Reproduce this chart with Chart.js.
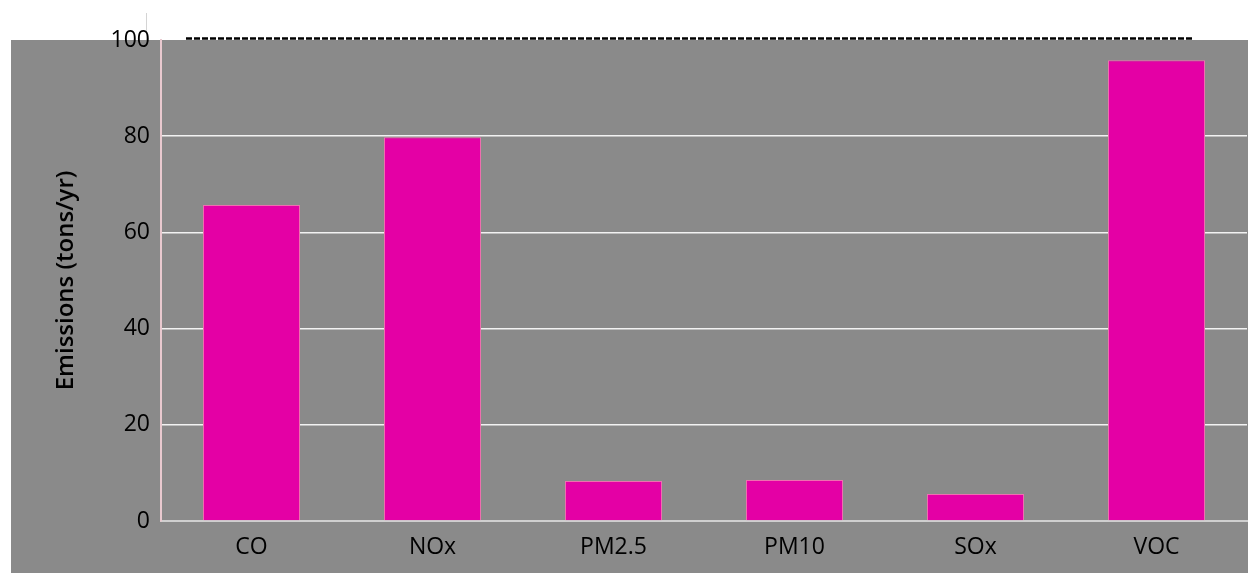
<!DOCTYPE html>
<html>
<head>
<meta charset="utf-8">
<script src="https://cdn.jsdelivr.net/npm/chart.js@4/dist/chart.umd.min.js"></script>
<style>
  html, body { margin: 0; padding: 0; background: #ffffff; }
  #wrap { width: 1248px; height: 573px; position: relative; }
</style>
</head>
<body>
<div id="wrap"><canvas id="emissionsChart"></canvas></div>
<script>
// Chart data
const pollutants = ['CO', 'NOx', 'PM2.5', 'PM10', 'SOx', 'VOC'];
const emissions = [65.7, 79.8, 8.3, 8.5, 5.6, 95.8];
const yTicks = [0, 20, 40, 60, 80, 100];

const FONT = '"Open Sans", "Segoe UI", sans-serif';

// gray panel behind the plot plus the dashed limit line at the top
const panelPlugin = {
    id: 'panel',
    beforeDraw(chart) {
        const { ctx, chartArea, width, height } = chart;
        ctx.save();
        ctx.fillStyle = '#ffffff';
        ctx.fillRect(0, 0, width, height);
        // stray light tick above the panel
        ctx.strokeStyle = '#d4d4d4';
        ctx.lineWidth = 1;
        ctx.beginPath();
        ctx.moveTo(chartArea.left - 14.5, chartArea.top - 27);
        ctx.lineTo(chartArea.left - 14.5, chartArea.top);
        ctx.stroke();
        ctx.fillStyle = '#8a8a8a';
        ctx.fillRect(11, chartArea.top, width - 11, height - chartArea.top);
        ctx.restore();
    },
    afterDraw(chart) {
        const { ctx, chartArea, scales } = chart;
        const y = scales.y.getPixelForValue(100) - 1.5;
        ctx.save();
        ctx.strokeStyle = '#000000';
        ctx.lineWidth = 2.5;
        ctx.setLineDash([6, 2]);
        ctx.beginPath();
        ctx.moveTo(chartArea.left + 25, y);
        ctx.lineTo(chartArea.right - 54, y);
        ctx.stroke();
        ctx.restore();
    }
};

const chart = new Chart(document.getElementById('emissionsChart'), {
    type: 'bar',
    data: {
        labels: pollutants,
        datasets: [{
            label: 'Emissions',
            data: emissions,
            backgroundColor: '#e400a5',
            borderColor: '#ef6fb0',
            borderWidth: 1,
            barPercentage: 0.536,
            categoryPercentage: 1.0
        }]
    },
    options: {
        responsive: true,
        maintainAspectRatio: false,
        animation: false,
        layout: { padding: { top: 40, right: 1, left: 0, bottom: 0 } },
        plugins: {
            legend: { display: false },
            tooltip: { enabled: false }
        },
        scales: {
            x: {
                grid: { display: false, drawTicks: false },
                border: { display: true, color: '#cfcfcf', width: 2 },
                ticks: {
                    color: '#000000',
                    font: { family: FONT, size: 23 },
                    padding: 13
                },
                afterFit(scale) { scale.height = 52; }
            },
            y: {
                min: 0,
                max: 100,
                afterBuildTicks(scale) {
                    scale.ticks = yTicks.map(v => ({ value: v }));
                },
                grid: {
                    color: ctx => (ctx.tick && (ctx.tick.value === 0 || ctx.tick.value === 100)) ? 'rgba(0,0,0,0)' : '#f2f2f2',
                    lineWidth: 1.5,
                    drawTicks: false
                },
                border: { display: true, color: '#e9c9cf', width: 2 },
                ticks: {
                    color: '#000000',
                    font: { family: FONT, size: 23 },
                    padding: 11
                },
                title: {
                    display: true,
                    text: 'Emissions (tons/yr)',
                    color: '#000000',
                    font: { family: FONT, size: 24, weight: '600' },
                    padding: { top: 52, bottom: 0 }
                },
                afterFit(scale) { scale.width = 161; }
            }
        }
    },
    plugins: [panelPlugin]
});
</script>
</body>
</html>
